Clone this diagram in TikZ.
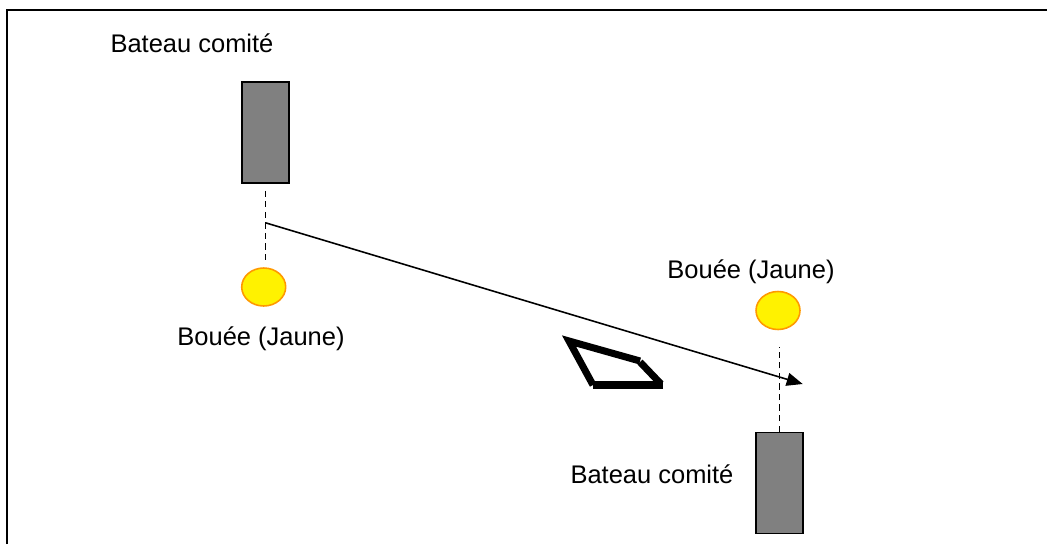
\documentclass[tikz,border=0pt]{standalone}
\usepackage{fontspec}
\setmainfont{Liberation Sans}
\usetikzlibrary{shapes.geometric,arrows.meta}
\definecolor{boatgray}{HTML}{808080}
\definecolor{buoyorange}{HTML}{FF9900}
\tikzset{
    boat/.style={draw, fill=boatgray, line width=0.9pt, minimum width=0.94cm, minimum height=2.02cm, inner sep=0pt},
    buoy/.style={ellipse, draw=buoyorange, fill=yellow, line width=0.9pt, minimum width=0.88cm, minimum height=0.76cm, inner sep=0pt},
    lbl/.style={anchor=base, inner sep=0pt, font=\fontsize{14.5}{17}\selectfont},
    axis/.style={line width=0.9pt, dash pattern=on 3.5pt off 2.5pt},
    course/.style={line width=0.9pt, -{Triangle[length=0.32cm, width=0.26cm]}},
    hull/.style={line width=4pt},
}
\begin{document}
\begin{tikzpicture}[x=0.02cm, y=-0.02cm]
    \useasboundingbox (0,0) rectangle (1047,544);
        \draw[line width=0.8pt] (7,544) -- (7,10) -- (1047,10);
        %
        \node[boat] (boatA) at (265.5,132.5) {};
        \node[buoy] (buoyA) at (263.7,287) {};
        \node[boat] (boatB) at (779.3,483) {};
        \node[buoy] (buoyB) at (778,310.5) {};
        \node[lbl] (boatAlabel) at (192,53) {Bateau comité};
        \node[lbl] (buoyAlabel) at (261,345) {Bouée (Jaune)};
        \node[lbl] (buoyBlabel) at (751,278) {Bouée (Jaune)};
        \node[lbl] (boatBlabel) at (652,483) {Bateau comité};
        %
        \draw[axis] ([yshift=-0.14cm]boatA.south) -- ([yshift=0.12cm]boatA.south |- buoyA.north);
        \draw[axis] (boatB.north) -- ([yshift=-0.33cm]boatB.north |- buoyB.south);
        \path (boatA.south) ++(0,39) coordinate (start);
        \coordinate (finish) at (802.7,384);
        \draw[course] (start) -- (finish);
        %
        \draw[hull] (593,385) -- (569,341) -- (640,361);
        \draw[hull] (640,362) -- (661,384);
        \draw[hull] (663,385) -- (593,385);
    \end{tikzpicture}
\end{document}
